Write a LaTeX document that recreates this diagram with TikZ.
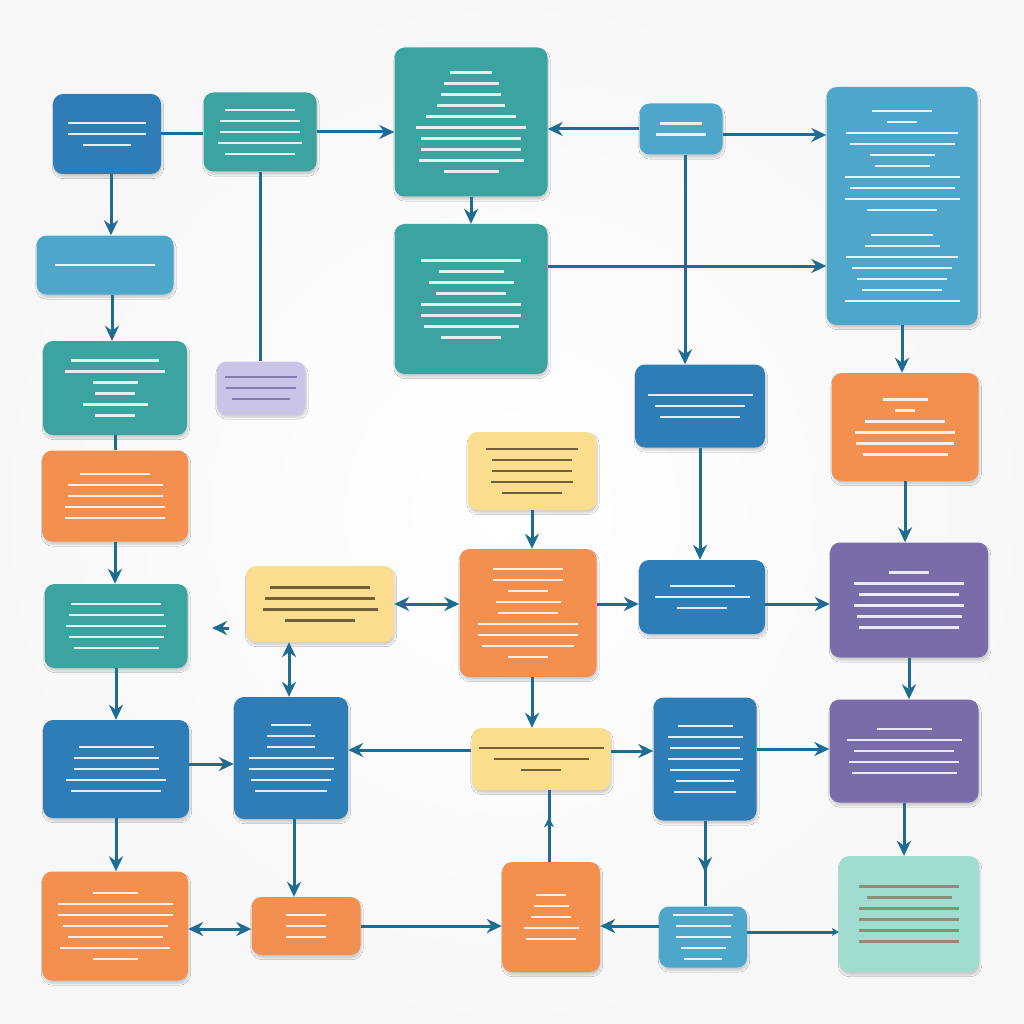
\documentclass[tikz,border=0pt]{standalone}
\usepackage{xcolor}
\definecolor{FlowBlue}{HTML}{2F7DB6}
\definecolor{FlowTeal}{HTML}{3BA4A1}
\definecolor{FlowSky}{HTML}{4FA6CB}
\definecolor{FlowOrange}{HTML}{F3904F}
\definecolor{FlowYellow}{HTML}{FBDD90}
\definecolor{FlowPurple}{HTML}{7A6CA8}
\definecolor{FlowLilac}{HTML}{CBC3E8}
\definecolor{FlowMint}{HTML}{A0DCCF}
\definecolor{FlowLine}{HTML}{1F6C93}
\definecolor{FlowInk}{HTML}{5A4A2A}
\usepackage{tikz}
\usetikzlibrary{arrows.meta,calc,positioning,shadows.blur,decorations.markings}
\newcommand{\txl}[1]{\rule{#1pt}{2.2pt}}

\begin{document}
\begin{tikzpicture}[
  x=1pt,y=-1pt,
  box/.style={
    rounded corners=10pt,inner sep=0pt,align=center,
    font=\fontsize{4}{11}\selectfont,text=white,text opacity=0.85,
    blur shadow={shadow xshift=1pt,shadow yshift=-3pt,shadow opacity=18,shadow blur steps=6}
  },
  bluebox/.style={box,fill=FlowBlue},
  tealbox/.style={box,fill=FlowTeal},
  skybox/.style={box,fill=FlowSky},
  orangebox/.style={box,fill=FlowOrange},
  yellowbox/.style={box,fill=FlowYellow,text=FlowInk},
  purplebox/.style={box,fill=FlowPurple},
  lilacbox/.style={box,fill=FlowLilac,text=FlowPurple},
  mintbox/.style={box,fill=FlowMint,text=FlowInk!70},
  conn/.style={draw=FlowLine,line width=3pt},
  arr/.style={conn,-{Stealth[length=15pt,width=14pt]}},
  darr/.style={conn,{Stealth[length=15pt,width=14pt]}-{Stealth[length=15pt,width=14pt]}},
  midup/.style={conn,decoration={markings,mark=at position 0.62 with {\arrow{Stealth[length=10pt,width=10pt]}}},postaction=decorate},
  middown/.style={conn,decoration={markings,mark=at position 0.6 with {\arrow{Stealth[length=15pt,width=14pt]}}},postaction=decorate}
]
  \shade[inner color=white,outer color=black!3] (0,0) rectangle (1024,1024);
  \useasboundingbox (0,0) rectangle (1024,1024);

  \node[bluebox,minimum width=108pt,minimum height=80pt] (start) at (107,134) {\txl{78}\\\txl{78}\\\txl{48}};
  \node[tealbox,minimum width=113pt,minimum height=79pt] (intake) at (260,132) {\txl{70}\\\txl{80}\\\txl{80}\\\txl{84}\\\txl{70}};
  \node[tealbox,minimum width=153pt,minimum height=149pt] (review) at (471,122) {\txl{42}\\\txl{55}\\\txl{60}\\\txl{68}\\\txl{90}\\\txl{110}\\\txl{100}\\\txl{100}\\\txl{105}\\\txl{55}};
  \node[skybox,minimum width=83pt,minimum height=51pt] (hub) at (681,129) {\txl{42}\\\txl{50}};
  \node[skybox,minimum width=151pt,minimum height=238pt] (notes) at (902,206) {\txl{60}\\\txl{30}\\\txl{112}\\\txl{105}\\\txl{65}\\\txl{55}\\\txl{115}\\\txl{105}\\\txl{115}\\\txl{70}\\[14pt]\txl{62}\\\txl{75}\\\txl{112}\\\txl{100}\\\txl{90}\\\txl{80}\\\txl{115}};
  \node[skybox,minimum width=137pt,minimum height=59pt] (scope) at (105,265) {\txl{100}};
  \node[tealbox,minimum width=153pt,minimum height=150pt] (detail) at (471,299) {\txl{100}\\\txl{65}\\\txl{85}\\\txl{70}\\\txl{100}\\\txl{100}\\\txl{95}\\\txl{60}};
  \node[lilacbox,minimum width=89pt,minimum height=53pt] (aside) at (261,388) {\txl{72}\\\txl{70}\\\txl{58}};
  \node[tealbox,minimum width=144pt,minimum height=94pt] (gather) at (115,388) {\txl{88}\\\txl{100}\\\txl{45}\\\txl{40}\\\txl{65}\\\txl{40}};
  \node[bluebox,minimum width=130pt,minimum height=83pt] (check) at (700,406) {\txl{105}\\\txl{90}\\\txl{80}};
  \node[orangebox,minimum width=147pt,minimum height=108pt] (assess) at (905,427) {\txl{45}\\\txl{20}\\\txl{80}\\\txl{100}\\\txl{98}\\\txl{85}};
  \node[yellowbox,minimum width=129pt,minimum height=78pt] (input) at (532,471) {\txl{92}\\\txl{80}\\\txl{80}\\\txl{82}\\\txl{60}};
  \node[orangebox,minimum width=146pt,minimum height=91pt] (plan) at (115,496) {\txl{70}\\\txl{95}\\\txl{95}\\\txl{100}\\\txl{100}};
  \node[tealbox,minimum width=143pt,minimum height=84pt] (prepare) at (116,626) {\txl{90}\\\txl{95}\\\txl{100}\\\txl{95}\\\txl{85}};
  \node[yellowbox,minimum width=148pt,minimum height=76pt] (options) at (320,604) {\txl{100}\\\txl{110}\\\txl{115}\\\txl{70}};
  \node[orangebox,minimum width=137pt,minimum height=128pt] (decide) at (528,613) {\txl{70}\\\txl{70}\\\txl{40}\\\txl{65}\\\txl{60}\\\txl{100}\\\txl{100}\\\txl{92}\\\txl{40}};
  \node[bluebox,minimum width=126pt,minimum height=74pt] (approve) at (702,597) {\txl{65}\\\txl{95}\\\txl{50}};
  \node[purplebox,minimum width=158pt,minimum height=115pt] (result) at (909,600) {\txl{40}\\\txl{110}\\\txl{100}\\\txl{110}\\\txl{105}\\\txl{100}};
  \node[bluebox,minimum width=146pt,minimum height=98pt] (build) at (116,769) {\txl{75}\\\txl{85}\\\txl{85}\\\txl{100}\\\txl{90}};
  \node[bluebox,minimum width=114pt,minimum height=122pt] (test) at (291,758) {\txl{40}\\\txl{48}\\\txl{48}\\\txl{85}\\\txl{85}\\\txl{80}\\\txl{72}};
  \node[yellowbox,minimum width=139pt,minimum height=62pt] (merge) at (541,759) {\txl{125}\\\txl{95}\\\txl{40}};
  \node[bluebox,minimum width=103pt,minimum height=123pt] (verify) at (705,759) {\txl{55}\\\txl{75}\\\txl{70}\\\txl{75}\\\txl{70}\\\txl{58}\\\txl{62}};
  \node[purplebox,minimum width=149pt,minimum height=103pt] (report) at (904,751) {\txl{55}\\\txl{115}\\\txl{100}\\\txl{110}\\\txl{105}};
  \node[orangebox,minimum width=146pt,minimum height=109pt] (deploy) at (115,926) {\txl{45}\\\txl{115}\\\txl{115}\\\txl{105}\\\txl{95}\\\txl{110}\\\txl{45}};
  \node[orangebox,minimum width=109pt,minimum height=58pt] (monitor) at (306,926) {\txl{40}\\\txl{40}\\\txl{40}};
  \node[orangebox,minimum width=98pt,minimum height=110pt] (adjust) at (551,917) {\txl{30}\\\txl{35}\\\txl{40}\\\txl{55}\\\txl{50}};
  \node[skybox,minimum width=88pt,minimum height=61pt] (feedback) at (703,937) {\txl{60}\\\txl{55}\\\txl{55}\\\txl{45}\\\txl{38}};
  \node[mintbox,minimum width=140pt,minimum height=116pt] (close) at (909,914) {\txl{100}\\\txl{85}\\\txl{100}\\\txl{100}\\\txl{100}\\\txl{100}};

  \coordinate (loosetip) at (212,628);
  \coordinate (loosetail) at (229,628);

  \draw[conn] (start.east) -- (start.east -| intake.west);
  \draw[arr] (intake.east) -- (intake.east -| review.west);
  \draw[arr] ([xshift=4pt]start.south) -- ([xshift=4pt]start.south |- scope.north);
  \draw[conn] (intake.south) -- (intake.south |- aside.north);
  \draw[arr] (review.south) -- (detail.north);
  \draw[arr] (hub.west) -- (hub.west -| review.east);
  \draw[arr] ([yshift=-6pt]hub.east) -- ([yshift=-6pt]hub.east -| notes.west);
  \draw[arr] ([xshift=4pt]hub.south) -- ([xshift=4pt]hub.south |- check.north);
  \draw[arr] ([yshift=33pt]detail.east) -- ([yshift=33pt]detail.east -| notes.west);
  \draw[arr] (notes.south) -- (notes.south |- assess.north);
  \draw[arr] ([xshift=7pt]scope.south) -- ([xshift=7pt]scope.south |- gather.north);
  \draw[conn] (gather.south) -- (plan.north);
  \draw[arr] (plan.south) -- (plan.south |- prepare.north);
  \draw[arr] (assess.south) -- (assess.south |- result.north);
  \draw[arr] (input.south) -- (input.south |- decide.north);
  \draw[arr] (check.south) -- (check.south |- approve.north);
  \draw[darr] (options.east) -- (options.east -| decide.west);
  \draw[arr] ([yshift=-7pt]approve.west -| decide.east) -- ([yshift=-7pt]approve.west);
  \draw[arr] ([yshift=-7pt]approve.east) -- ([yshift=-7pt]approve.east -| result.west);
  \draw[arr] (loosetail) -- (loosetip);
  \draw[darr] ([xshift=-2pt]test.north |- options.south) -- ([xshift=-2pt]test.north);
  \draw[arr] (prepare.south) -- (prepare.south |- build.north);
  \draw[arr] ([yshift=5pt]build.east) -- ([yshift=5pt]build.east -| test.west);
  \draw[arr] ([yshift=9pt]merge.west) -- ([yshift=9pt]merge.west -| test.east);
  \draw[arr] ([xshift=4pt]decide.south) -- ([xshift=4pt]decide.south |- merge.north);
  \draw[arr] ([yshift=8pt]merge.east) -- ([yshift=8pt]merge.east -| verify.west);
  \draw[arr] ([yshift=10pt]verify.east) -- ([yshift=10pt]verify.east -| report.west);
  \draw[arr] (result.south) -- (result.south |- report.north);
  \draw[arr] (report.south) -- (report.south |- close.north);
  \draw[arr] (build.south) -- (build.south |- deploy.north);
  \draw[arr] ([xshift=3pt]test.south) -- ([xshift=3pt]test.south |- monitor.north);
  \draw[darr] ([yshift=-3pt]deploy.east) -- ([yshift=-3pt]deploy.east -| monitor.west);
  \draw[arr] (monitor.east) -- (monitor.east -| adjust.west);
  \draw[midup] ([xshift=-2pt]adjust.north) -- ([xshift=-2pt]adjust.north |- merge.south);
  \draw[middown] (verify.south) -- (verify.south |- feedback.north);
  \draw[arr] ([yshift=11pt]feedback.west) -- ([yshift=11pt]feedback.west -| adjust.east);
  \draw[conn,-{Stealth[length=7pt,width=8pt]}] ([yshift=5pt]feedback.east) -- ([yshift=5pt]feedback.east -| close.west);
\end{tikzpicture}
\end{document}
